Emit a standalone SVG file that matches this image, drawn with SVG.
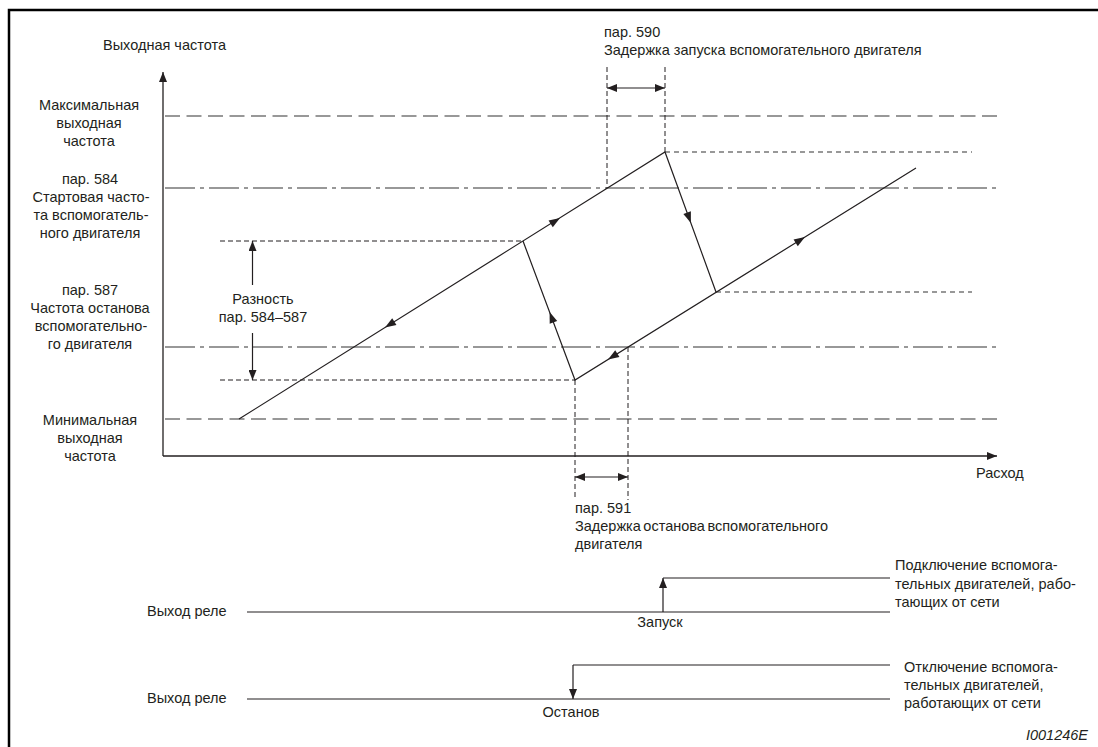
<svg xmlns="http://www.w3.org/2000/svg" width="1098" height="747" viewBox="0 0 1098 747">
<style>
text{font-family:"Liberation Sans",Arial,sans-serif;font-size:14.5px;fill:#231f20}
.c{text-anchor:middle}
.ln{stroke:#231f20;stroke-width:1.2;fill:none}
.ax{stroke:#231f20;stroke-width:1.3;fill:none}
.ld{stroke:#777;stroke-width:1.4;fill:none;stroke-dasharray:15 6.5}
.dd{stroke:#777;stroke-width:1.4;fill:none;stroke-dasharray:30 5 4 5}
.sd{stroke:#231f20;stroke-width:1;fill:none;stroke-dasharray:5 3}
.gd{stroke:#777;stroke-width:1.3;fill:none;stroke-dasharray:5 4}
.ah{fill:#231f20}
</style>
<defs>
<path id="tri" d="M0,0 L-11,-4 L-11,4 Z"/>
<marker id="me" viewBox="0 0 10 8" refX="10" refY="4" markerWidth="10" markerHeight="8" markerUnits="userSpaceOnUse" orient="auto"><path d="M0,0 L10,4 L0,8 Z" fill="#231f20"/></marker>
<marker id="ms" viewBox="0 0 10 8" refX="0" refY="4" markerWidth="10" markerHeight="8" markerUnits="userSpaceOnUse" orient="auto"><path d="M10,0 L0,4 L10,8 Z" fill="#231f20"/></marker>
</defs>
<rect width="1098" height="747" fill="#fff"/>
<g id="frame"><path d="M9,747 V10 H1098" stroke="#000" stroke-width="2.5" fill="none"/></g>

<g id="axes">
<line class="ax" x1="163" y1="456" x2="163" y2="72" marker-end="url(#me)" stroke="#555"/>
<line class="ax" x1="163" y1="456" x2="997" y2="456" marker-end="url(#me)"/>
</g>

<g id="levels">
<line class="ld" x1="165" y1="116" x2="997" y2="116"/>
<line class="dd" x1="165" y1="188" x2="997" y2="188"/>
<line class="dd" x1="165" y1="347" x2="997" y2="347"/>
<line class="ld" x1="165" y1="419" x2="997" y2="419"/>
</g>

<g id="guides">
<line class="sd" x1="607" y1="67" x2="607" y2="188"/>
<line class="sd" x1="665" y1="67" x2="665" y2="152"/>
<line class="sd" x1="575" y1="380" x2="575" y2="500"/>
<line class="sd" x1="628" y1="347" x2="628" y2="500"/>
<line class="gd" x1="665" y1="152" x2="972" y2="152"/>
<line class="gd" x1="716" y1="292" x2="972" y2="292"/>
<line class="sd" x1="220" y1="241" x2="523" y2="241"/>
<line class="sd" x1="220" y1="380" x2="575" y2="380"/>
</g>

<g id="connectors">
<polyline class="ln" points="239,419 665,152 716,292"/>
<polyline class="ln" points="523,241 575,380 916,168"/>
<use href="#tri" class="ah" transform="translate(560,218) rotate(-32.08)"/>
<use href="#tri" class="ah" transform="translate(385,327.5) rotate(147.92)"/>
<use href="#tri" class="ah" transform="translate(608,359.5) rotate(148.13)"/>
<use href="#tri" class="ah" transform="translate(805,237) rotate(-31.87)"/>
<use href="#tri" class="ah" transform="translate(549.6,312) rotate(-110.5)"/>
<use href="#tri" class="ah" transform="translate(690.9,223) rotate(70)"/>
<line class="ln" x1="607" y1="88" x2="665" y2="88" marker-start="url(#ms)" marker-end="url(#me)"/>
<line class="ln" x1="575" y1="477" x2="628" y2="477" marker-start="url(#ms)" marker-end="url(#me)" stroke="#444"/>
<line class="ln" x1="252.5" y1="285" x2="252.5" y2="241" marker-end="url(#me)" stroke="#444"/>
<line class="ln" x1="252.5" y1="333" x2="252.5" y2="380" marker-end="url(#me)" stroke="#444"/>
</g>

<g id="relay1">
<line class="ln" x1="247" y1="612" x2="890" y2="612"/>
<polyline class="ln" points="890,578 663,578"/>
<line class="ln" x1="663" y1="612" x2="663" y2="578" marker-end="url(#me)"/>
</g>
<g id="relay2">
<line class="ln" x1="247" y1="699" x2="890" y2="699"/>
<polyline class="ln" points="890,665 573,665"/>
<line class="ln" x1="573" y1="665" x2="573" y2="699" marker-end="url(#me)"/>
</g>

<g id="labels">
<text x="103" y="50">Выходная частота</text>
<text class="c" x="89" y="110">Максимальная</text>
<text class="c" x="89" y="128">выходная</text>
<text class="c" x="89" y="146">частота</text>
<text class="c" x="90" y="184">пар. 584</text>
<text class="c" x="91" y="202">Стартовая часто-</text>
<text class="c" x="91" y="220">та вспомогатель-</text>
<text class="c" x="90" y="238">ного двигателя</text>
<text class="c" x="90" y="295">пар. 587</text>
<text class="c" x="90" y="313">Частота останова</text>
<text class="c" x="91" y="331">вспомогательно-</text>
<text class="c" x="90" y="349">го двигателя</text>
<text class="c" x="90" y="425">Минимальная</text>
<text class="c" x="90" y="443">выходная</text>
<text class="c" x="90" y="461">частота</text>
<text class="c" x="263" y="304">Разность</text>
<text class="c" x="263" y="322">пар. 584–587</text>
<text x="604" y="37">пар. 590</text>
<text x="604" y="55">Задержка запуска вспомогательного двигателя</text>
<text x="976" y="478">Расход</text>
<text x="575" y="513">пар. 591</text>
<text x="575" y="531" word-spacing="-1.5">Задержка останова вспомогательного</text>
<text x="575" y="549">двигателя</text>
<text x="147" y="616">Выход реле</text>
<text x="147" y="703">Выход реле</text>
<text class="c" x="660" y="627">Запуск</text>
<text class="c" x="571" y="717">Останов</text>
<text x="895" y="570">Подключение вспомога-</text>
<text x="895" y="589">тельных двигателей, рабо-</text>
<text x="895" y="607">тающих от сети</text>
<text x="904" y="672">Отключение вспомога-</text>
<text x="904" y="690">тельных двигателей,</text>
<text x="904" y="708">работающих от сети</text>
<text x="1088" y="740" text-anchor="end" font-style="italic">I001246E</text>
</g>
</svg>
